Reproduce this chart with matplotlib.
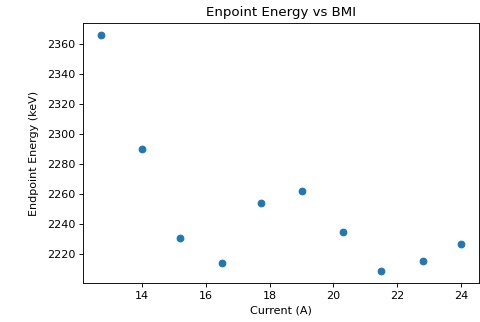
import matplotlib
matplotlib.use('Agg')
import matplotlib.pyplot as plt

current = [12.71, 14.0, 15.19, 16.5, 17.72, 19.0, 20.3, 21.5, 22.8, 24.0]
energy = [2365.8, 2289.7, 2230.5, 2213.9, 2254.0, 2261.7, 2234.8, 2208.5, 2215.6, 2226.6]

fig = plt.figure(figsize=(6.0, 322 / 80), dpi=80)
ax = fig.add_axes([83 / 480, 1 - 283 / 322, 396 / 480, 260 / 322])

ax.scatter(current, energy)

ax.set_title('Enpoint Energy vs BMI')
ax.set_xlabel('Current (A)')
ax.set_ylabel('Endpoint Energy (keV)', labelpad=7)

fig.savefig('out.png', dpi=80)
